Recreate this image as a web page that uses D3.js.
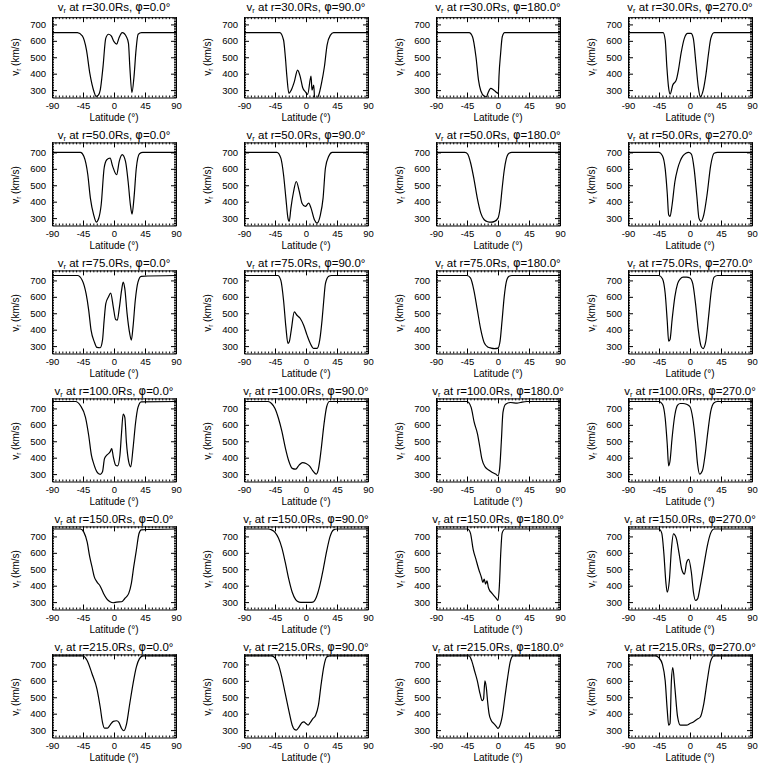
<!DOCTYPE html>
<html><head><meta charset="utf-8">
<script src="https://cdn.jsdelivr.net/npm/d3@7"></script>
<style>body{margin:0;background:#fff}</style>
</head><body>
<svg id="c" width="768" height="768"></svg>
<script>
const radii = [30, 50, 75, 100, 150, 215];
const phis = [0, 90, 180, 270];
const xTicks = [-90, -45, 0, 45, 90];
const yTicks = [300, 400, 500, 600, 700];
const yMaxByRow = [744, 761, 761, 761, 761, 761];
const yMin = 255;

// r = 30 Rs
const lat_30_0 = [-90,-53,-46,-40,-35,-29,-26,-23,-20,-16,-12,-8,-4,0,4,7,12,18,21,23,26,29,32,35,40,90];
const v_30_0 = [650,650,630,545,400,290,262,268,300,440,615,640,630,595,580,615,650,625,585,440,285,380,545,640,650,650];
const lat_30_90 = [-90,-38,-32.6,-30,-27.7,-24.8,-21.4,-17,-12.2,-8.3,-4.9,-1,2.4,7.3,8.7,11.2,12.6,15,18.5,22.4,26.7,30.6,35.5,40,90];
const v_30_90 = [650,650,605,503,381,280,300,350,422,381,316,290,274,385,300,331,250,245,270,340,442,574,635,650,650];
const lat_30_180 = [-90,-42,-37,-32,-28.3,-25,-20,-16.8,-14.4,-10.6,-7.2,-3.4,0.5,1.4,3.8,6.2,9.6,90];
const v_30_180 = [650,650,625,503,361,296,263,259,284,310,304,290,280,381,523,625,650,650];
const lat_30_270 = [-90,-39,-36,-33.6,-31.2,-28.8,-25,-20,-16.8,-13,-8.2,-3.4,1.4,4.8,8.6,12,14.9,19.2,23,26.9,30.2,35,90];
const v_30_270 = [650,650,605,442,320,276,331,361,422,523,615,645,645,615,462,320,259,300,391,523,615,650,650];

// r = 50 Rs
const lat_50_0 = [-90,-48.6,-43.8,-38,-34.3,-29.5,-25.7,-22.4,-18.6,-14.3,-10.5,-5.7,-1.9,3.8,7.6,11.9,16.7,20.5,23.8,26.2,29,32.4,37,41.9,90];
const v_50_0 = [700,700,676,564,422,320,276,296,381,605,655,665,615,564,645,686,645,523,381,324,422,605,692,700,700];
const lat_50_90 = [-90,-42.3,-36.5,-32.6,-29.2,-26.2,-24.3,-21.9,-18,-14.1,-9.7,-5.8,-1,3.9,7.3,12.2,16,20.9,24.8,28.2,33,37.9,90];
const v_50_90 = [700,700,665,564,422,300,280,361,462,523,462,391,371,391,361,290,270,320,422,605,676,700,700];
const lat_50_180 = [-90,-48,-44,-40,-35,-30,-25,-20,-15,-10,-5,0,3,6,9,12,16,20,90];
const v_50_180 = [700,700,690,640,540,420,330,290,278,275,280,300,360,480,590,660,695,700,700];
const lat_50_270 = [-90,-45,-40,-36,-33,-31,-29,-26,-22,-18,-14,-10,-6,-2,2,6,10,13,16,20,25,30,35,40,90];
const v_50_270 = [700,700,680,600,450,320,310,380,520,600,650,680,695,700,690,600,430,300,280,320,450,620,695,700,700];

// r = 75 Rs
const lat_75_0 = [-90,-53,-46,-40.5,-36.7,-33.3,-28.6,-24.8,-20,-16.7,-14.3,-11.9,-8.1,-4.8,-1,2.4,4.8,7.6,11,13.3,15.7,19,22.8,25.2,27.6,30.9,34.8,39.5,90];
const v_75_0 = [730,730,700,619,518,397,326,292,290,336,458,559,599,623,538,462,458,528,639,690,650,498,377,336,417,579,690,725,730];
const lat_75_90 = [-90,-41,-36.5,-32.6,-29.2,-26.2,-24.3,-21.4,-17,-13.1,-8.3,-3.4,1.5,6.3,11.2,16,19.9,23.3,25.8,28.2,33,37,90];
const v_75_90 = [730,730,700,579,417,316,326,397,508,488,468,427,367,316,286,286,336,458,579,680,725,730,730];
const lat_75_180 = [-90,-45,-40,-35,-30,-25,-20,-15,-10,-5,0,3,6,9,12,16,20,90];
const v_75_180 = [730,730,715,640,520,400,320,295,288,285,288,330,460,600,690,725,730,730];
const lat_75_270 = [-90,-45,-40,-36,-33,-31,-29,-26,-22,-18,-14,-10,-5,0,4,8,12,16,19,23,27,31,35,40,90];
const v_75_270 = [730,730,710,620,450,330,340,460,600,680,710,720,720,715,680,560,400,300,285,330,480,640,720,730,730];

// r = 100 Rs
const lat_100_0 = [-90,-55.7,-48.6,-41.4,-36.7,-32.8,-29.5,-24.8,-20,-16.7,-13.8,-10.5,-5.7,-3.3,-1,2.4,5.2,8.6,11,13.3,15.7,18,21.4,24.3,27.6,31.4,34.8,39.5,90];
const v_100_0 = [742,742,716,646,535,415,364,314,298,314,394,415,435,455,405,354,350,415,555,666,646,495,374,344,455,616,706,740,742];
const lat_100_90 = [-90,-55,-50,-45,-40,-35,-30,-25,-20,-15,-10,-5,0,5,10,15,18,22,26,30,34,90];
const v_100_90 = [742,742,730,700,640,560,460,380,335,330,355,370,365,350,320,300,330,450,600,710,742,742];
const lat_100_180 = [-90,-45,-39,-34.6,-29.8,-26.4,-23.5,-18.7,-13,-8.2,-3.4,0,2.4,4.8,7.2,11,18.2,27.8,32.6,42,90];
const v_100_180 = [742,742,706,616,545,465,394,344,324,310,300,290,334,495,676,726,736,732,736,742,742];
const lat_100_270 = [-90,-45,-40,-36,-33,-31,-29,-26,-22,-18,-14,-10,-5,0,4,8,11,14,18,22,26,30,35,40,90];
const v_100_270 = [742,742,725,640,480,350,380,520,660,720,730,730,725,710,640,500,360,300,320,420,560,680,735,742,742];

// r = 150 Rs
const lat_150_0 = [-90,-48.6,-43.8,-39,-35.2,-31.9,-28.6,-24.8,-20,-15.2,-10.5,-5.7,-1,3.8,11,15.7,21.4,25.2,28.6,32.4,36.2,39.5,90];
const v_150_0 = [745,745,726,666,575,514,454,423,397,353,320,302,296,300,302,322,353,414,514,615,716,740,745];
const lat_150_90 = [-90,-55,-50,-45,-40,-35,-30,-25,-20,-15,-10,-5,0,5,10,15,20,25,30,35,40,45,90];
const v_150_90 = [745,745,740,725,690,630,540,440,360,315,300,298,298,298,300,330,400,500,610,700,740,745,745];
const lat_150_180 = [-90,-44,-40,-36,-32,-28,-24,-22,-20,-18,-16,-14,-12,-10,-6,-2,0,2,4,6,10,90];
const v_150_180 = [745,745,720,620,560,500,450,420,440,410,430,390,370,360,340,320,310,400,600,720,745,745];
const lat_150_270 = [-90,-45,-41,-38,-35,-33,-30,-27,-24,-20,-16,-12,-8,-5,-2,2,5,8,11,15,20,25,30,35,90];
const v_150_270 = [745,745,720,600,420,360,430,620,715,690,600,500,470,540,560,480,360,310,320,400,520,640,720,745,745];

// r = 215 Rs
const lat_215_0 = [-90,-46,-39,-31.9,-24.8,-20,-16.7,-13.8,-9.5,-5.7,-1,3.8,7.1,11,14.3,18,22.8,27.6,32.4,37,41.9,90];
const v_215_0 = [752,752,724,643,551,439,347,312,312,331,353,357,347,310,296,333,459,582,684,735,752,752];
const lat_215_90 = [-90,-50,-45,-40,-35,-30,-25,-20,-17,-14,-10,-6,-3,0,3,6,10,14,18,22,26,30,35,90];
const v_215_90 = [752,752,740,700,620,520,420,330,305,300,320,345,350,340,330,345,370,390,450,580,690,745,752,752];
const lat_215_180 = [-90,-42,-38,-34,-30,-26,-23,-21,-19,-17,-15,-13,-10,-6,-2,0,2,6,10,14,18,22,26,90];
const v_215_180 = [752,752,720,660,600,520,480,490,600,560,470,400,360,340,320,310,320,380,500,620,720,752,752,752];
const lat_215_270 = [-90,-50,-45,-40,-36,-33,-31,-29,-27,-25,-22,-18,-14,-10,-5,0,5,10,15,20,25,30,35,90];
const v_215_270 = [752,752,740,700,600,420,330,340,600,680,560,380,330,330,330,340,350,365,380,460,600,720,752,752];

const panelData = [
  [lat_30_0, v_30_0], [lat_30_90, v_30_90], [lat_30_180, v_30_180], [lat_30_270, v_30_270],
  [lat_50_0, v_50_0], [lat_50_90, v_50_90], [lat_50_180, v_50_180], [lat_50_270, v_50_270],
  [lat_75_0, v_75_0], [lat_75_90, v_75_90], [lat_75_180, v_75_180], [lat_75_270, v_75_270],
  [lat_100_0, v_100_0], [lat_100_90, v_100_90], [lat_100_180, v_100_180], [lat_100_270, v_100_270],
  [lat_150_0, v_150_0], [lat_150_90, v_150_90], [lat_150_180, v_150_180], [lat_150_270, v_150_270],
  [lat_215_0, v_215_0], [lat_215_90, v_215_90], [lat_215_180, v_215_180], [lat_215_270, v_215_270]
];

const svg = d3.select('#c');
svg.append('rect').attr('width', 768).attr('height', 768).attr('fill', '#fff');
const FONT = "'Liberation Sans', Arial, sans-serif";
const PW = 124, LEFT = 52, YBOT = 97.5, PXU = 0.16425;
const xMinor = d3.range(-90, 91, 5);
const yMinorBase = d3.range(260, 770, 10);

panelData.forEach((pd, i) => {
  const r = Math.floor(i / 4), c = i % 4;
  const ox = 192 * c, oy = 128 * r;
  const yMax = yMaxByRow[r];
  const yTop = YBOT - (yMax - yMin) * PXU;
  const x = d3.scaleLinear().domain([-90, 90]).range([LEFT, LEFT + PW]);
  const y = d3.scaleLinear().domain([yMin, yMax]).range([YBOT, yTop]);
  const g = svg.append('g').attr('transform', `translate(${ox},${oy})`);

  const cid = 'clip' + i;
  g.append('clipPath').attr('id', cid).append('rect')
    .attr('x', LEFT).attr('y', yTop).attr('width', PW).attr('height', YBOT - yTop);

  const pts = pd[0].map((la, k) => [la, pd[1][k]]);
  const line = d3.line().x(d => x(d[0])).y(d => y(d[1])).curve(d3.curveMonotoneX);
  g.append('path').attr('d', line(pts)).attr('fill', 'none').attr('stroke', '#000')
    .attr('stroke-width', 1.2).attr('clip-path', `url(#${cid})`);

  const yMinor = yMinorBase.filter(v => v > yMin && v < yMax);
  const styleAxis = sel => { sel.selectAll('path,line').attr('stroke', '#000'); sel.selectAll('text').attr('font-family', FONT).attr('font-size', 9.5).attr('fill', '#000'); };

  g.append('g').attr('transform', `translate(0,${YBOT})`)
    .call(d3.axisBottom(x).tickValues(xTicks).tickSizeInner(-5).tickSizeOuter(0).tickPadding(5).tickFormat(d3.format('d')))
    .call(styleAxis).call(s => s.selectAll('text').text(d => String(d)));
  g.append('g').attr('transform', `translate(0,${YBOT})`)
    .call(d3.axisBottom(x).tickValues(xMinor).tickSize(-2).tickFormat('')).call(styleAxis).call(s => s.select('.domain').remove());
  g.append('g').attr('transform', `translate(0,${yTop})`)
    .call(d3.axisTop(x).tickValues(xTicks).tickSizeInner(-5).tickSizeOuter(0).tickFormat('')).call(styleAxis);
  g.append('g').attr('transform', `translate(0,${yTop})`)
    .call(d3.axisTop(x).tickValues(xMinor).tickSize(-2).tickFormat('')).call(styleAxis).call(s => s.select('.domain').remove());
  g.append('g').attr('transform', `translate(${LEFT},0)`)
    .call(d3.axisLeft(y).tickValues(yTicks).tickSizeInner(-5).tickSizeOuter(0).tickPadding(6)).call(styleAxis);
  g.append('g').attr('transform', `translate(${LEFT},0)`)
    .call(d3.axisLeft(y).tickValues(yMinor).tickSize(-2).tickFormat('')).call(styleAxis).call(s => s.select('.domain').remove());
  g.append('g').attr('transform', `translate(${LEFT + PW},0)`)
    .call(d3.axisRight(y).tickValues(yTicks).tickSizeInner(-5).tickSizeOuter(0).tickFormat('')).call(styleAxis);
  g.append('g').attr('transform', `translate(${LEFT + PW},0)`)
    .call(d3.axisRight(y).tickValues(yMinor).tickSize(-2).tickFormat('')).call(styleAxis).call(s => s.select('.domain').remove());

  const t = g.append('text').attr('x', LEFT + PW / 2).attr('y', 10.5).attr('text-anchor', 'middle')
    .attr('font-family', FONT).attr('font-size', 11.5).attr('fill', '#000');
  t.append('tspan').text('v');
  t.append('tspan').attr('font-size', 7.5).attr('dy', 2).text('r');
  t.append('tspan').attr('dy', -2).text(` at r=${radii[r].toFixed(1)}Rs, `);
  t.append('tspan').attr('font-family', "'DejaVu Sans', sans-serif").text('\u03C6');
  t.append('tspan').text(`=${phis[c].toFixed(1)}\u00B0`);

  const yl = g.append('text').attr('transform', `translate(19,57) rotate(-90)`).attr('text-anchor', 'middle')
    .attr('font-family', FONT).attr('font-size', 10).attr('fill', '#000');
  yl.append('tspan').text('v');
  yl.append('tspan').attr('font-size', 6.5).attr('dy', 2).text('r');
  yl.append('tspan').attr('dy', -2).text(' (km/s)');

  g.append('text').attr('x', LEFT + PW / 2).attr('y', 121).attr('text-anchor', 'middle')
    .attr('font-family', FONT).attr('font-size', 10).attr('fill', '#000').text('Latitude (\u00B0)');
});
</script>
</body></html>
